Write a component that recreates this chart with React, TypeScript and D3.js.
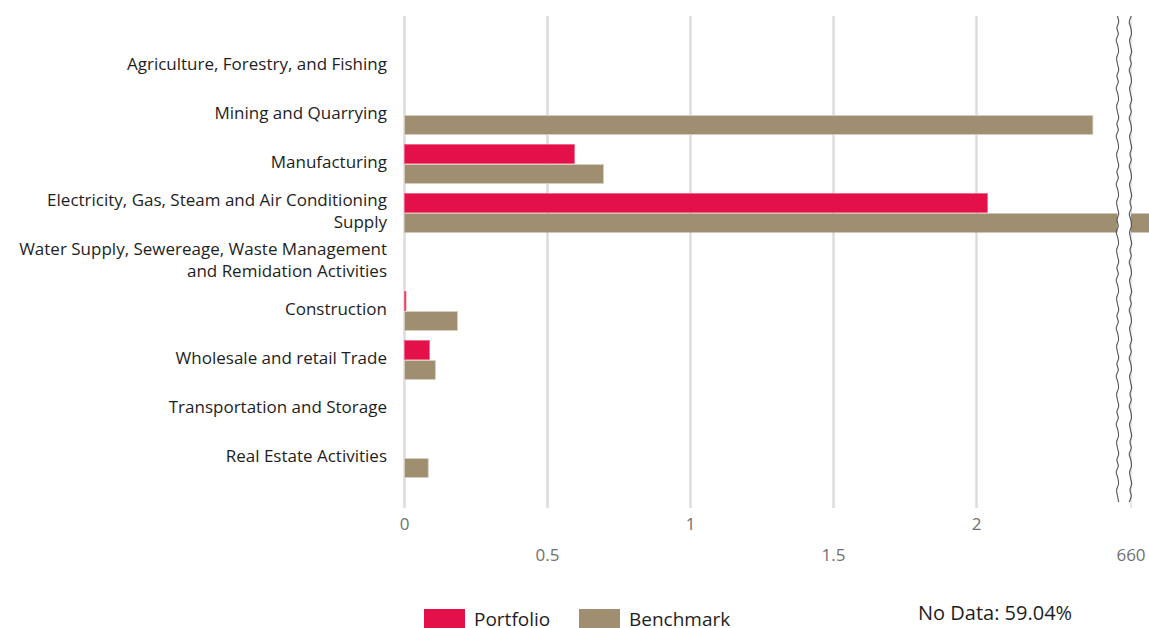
import React from "react";
import * as d3 from "d3";

const categories: string[][] = [
  ["Agriculture, Forestry, and Fishing"],
  ["Mining and Quarrying"],
  ["Manufacturing"],
  ["Electricity, Gas, Steam and Air Conditioning", "Supply"],
  ["Water Supply, Sewereage, Waste Management", "and Remidation Activities"],
  ["Construction"],
  ["Wholesale and retail Trade"],
  ["Transportation and Storage"],
  ["Real Estate Activities"],
];
const portfolio: (number | null)[] = [null, null, 0.594, 2.038, null, 0.005, 0.087, null, null];
const benchmark: (number | null)[] = [null, 2.407, 0.696, 663, null, 0.185, 0.108, null, 0.083];
const lowTicks = [0, 0.5, 1, 1.5, 2];
const highTicks = [660];
const seriesNames = ["Portfolio", "Benchmark"];
const colors = ["#e31049", "#a08e70"];
const noDataText = "No Data: 59.04%";

const W = 1149, H = 628;
const FONT = "'Open Sans', 'Noto Sans', sans-serif";

export default function App() {
  const xLow = d3.scaleLinear().domain([0, 2]).range([404.5, 976.5]);
  const breakX1 = 1117.5, breakX2 = 1131;
  const xHigh = d3.scaleLinear().domain([660, 662]).range([1131, 1131 + 572]);
  const xv = (v: number) => (v <= 2.49 ? xLow(v) : xHigh(v));
  const y = d3.scaleBand<number>().domain(d3.range(categories.length)).range([41.5, 482.5]);
  const barH = 19;
  const gridTop = 16, gridBottom = 508;

  const wiggle = (x0: number, phase: number) => {
    const pts: [number, number][] = [];
    for (let yy = gridTop; yy <= gridBottom - 2; yy += 6) {
      const k = Math.round((yy - gridTop) / 6);
      const off = [0, 1.2, -0.6, 0.8, -1.3, 0.4, 1.0, -0.9][(k + phase) % 8];
      pts.push([x0 + off, yy]);
    }
    return d3.line().curve(d3.curveCatmullRom)(pts) || "";
  };

  const rows: React.ReactNode[] = [];
  categories.forEach((c, i) => {
    const yc = (y(i) as number) + y.bandwidth() / 2;
    const vals = [portfolio[i], benchmark[i]];
    vals.forEach((v, s) => {
      if (v == null) return;
      const yTop = s === 0 ? yc - barH - 0.5 : yc + 0.5;
      if (v > 2.49) {
        rows.push(
          <g key={`b${i}${s}`}>
            <rect x={xLow(0)} y={yTop} width={breakX1 - xLow(0)} height={barH} fill={colors[s]} />
            <rect x={breakX2} y={yTop} width={xHigh(v) - breakX2} height={barH} fill={colors[s]} />
          </g>
        );
      } else {
        rows.push(
          <rect key={`b${i}${s}`} x={xLow(0)} y={yTop} width={Math.max(1, xv(v) - xLow(0))} height={barH}
            fill={colors[s]} stroke={s === 0 ? "#f0607f" : "#d9d0c0"} strokeWidth={0.8} />
        );
      }
    });
  });

  return (
    <svg width={W} height={H} style={{ position: "absolute", left: 0, top: 0, background: "#fff" }}
      fontFamily={FONT}>
      {lowTicks.map((t) => (
        <line key={t} x1={xLow(t)} x2={xLow(t)} y1={gridTop} y2={gridBottom} stroke="#dcdcdc" strokeWidth={2.5} />
      ))}
      {highTicks.map((t) => (
        <line key={t} x1={xHigh(t)} x2={xHigh(t)} y1={gridTop} y2={gridBottom} stroke="#e6e6e6" strokeWidth={2} />
      ))}
      {rows}
      <rect x={breakX1 + 1} y={gridTop} width={breakX2 - breakX1 - 2} height={gridBottom - gridTop} fill="#fff" />
      <path d={wiggle(breakX1, 0)} fill="none" stroke="#555" strokeWidth={1.1} />
      <path d={wiggle(breakX2 - 0.5, 3)} fill="none" stroke="#555" strokeWidth={1.1} />
      {categories.map((c, i) => {
        const yc = (y(i) as number) + y.bandwidth() / 2 - 1.5;
        const n = c.length;
        return (
          <text key={i} x={387} textAnchor="end" fontSize={17} fill="#1e1e1e">
            {c.map((line, j) => (
              <tspan key={j} x={387} y={yc + (j - (n - 1) / 2) * 22} dy="0.35em">{line}</tspan>
            ))}
          </text>
        );
      })}
      {lowTicks.map((t, k) => (
        <text key={t} x={xLow(t)} y={530} dy={k % 2 === 0 ? 0 : 31} textAnchor="middle" fontSize={17} fill="#707070">
          {String(t)}
        </text>
      ))}
      {highTicks.map((t) => (
        <text key={t} x={xHigh(t)} y={561} textAnchor="middle" fontSize={17} fill="#707070">{String(t)}</text>
      ))}
      {seriesNames.map((s, k) => {
        const x0 = k === 0 ? 424 : 579;
        return (
          <g key={s}>
            <rect x={x0} y={609} width={41} height={20} fill={colors[k]} />
            <text x={x0 + 50} y={626} fontSize={19} fill="#1e1e1e">{s}</text>
          </g>
        );
      })}
      <text x={918} y={620} fontSize={20} fill="#1e1e1e">{noDataText}</text>
    </svg>
  );
}
